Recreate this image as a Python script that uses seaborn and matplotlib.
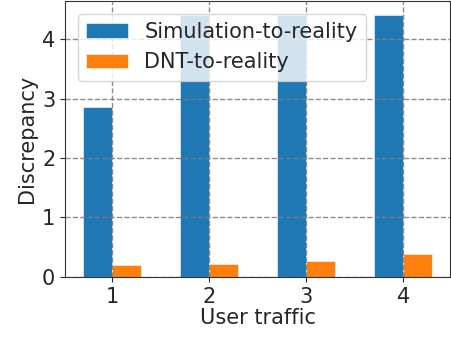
import pandas as pd
import seaborn as sns
from matplotlib import pyplot as plt

sns.set_style('ticks')
plt.rcParams['font.family'] = ['DejaVu Sans']

traffic = ['1', '2', '3', '4']
sim_to_reality = [2.86, 4.40, 4.40, 4.41]
dnt_to_reality = [0.20, 0.22, 0.27, 0.385]
series = ['Simulation-to-reality', 'DNT-to-reality']

df = pd.DataFrame({
    'traffic': traffic * 2,
    'value': sim_to_reality + dnt_to_reality,
    'series': [series[0]] * 4 + [series[1]] * 4,
})

fig = plt.figure(figsize=(4.52, 3.62), dpi=100)
ax = fig.add_axes([0.144, 0.235, 0.852, 0.762])

sns.barplot(data=df, x='traffic', y='value', hue='series', ax=ax,
            palette=['#1f77b4', '#ff7f0e'], width=0.6, saturation=1,
            edgecolor='white', linewidth=0.4)

for s in ax.spines.values():
    s.set_visible(True)
    s.set_color('#333333')
ax.set_xlim(-0.485, 3.485)
ax.set_ylim(0, 4.64)
ax.set_yticks([0, 1, 2, 3, 4])
ax.grid(True, linestyle='--', color='gray', linewidth=1, alpha=0.9)
ax.set_axisbelow(False)
ax.tick_params(labelsize=15)
ax.set_xlabel('User traffic', fontsize=15, labelpad=1)
ax.set_ylabel('Discrepancy', fontsize=15)
ax.legend(loc='upper left', fontsize=15, title=None, framealpha=0.8,
          borderaxespad=0.6)

fig.savefig('out.png', dpi=100)
